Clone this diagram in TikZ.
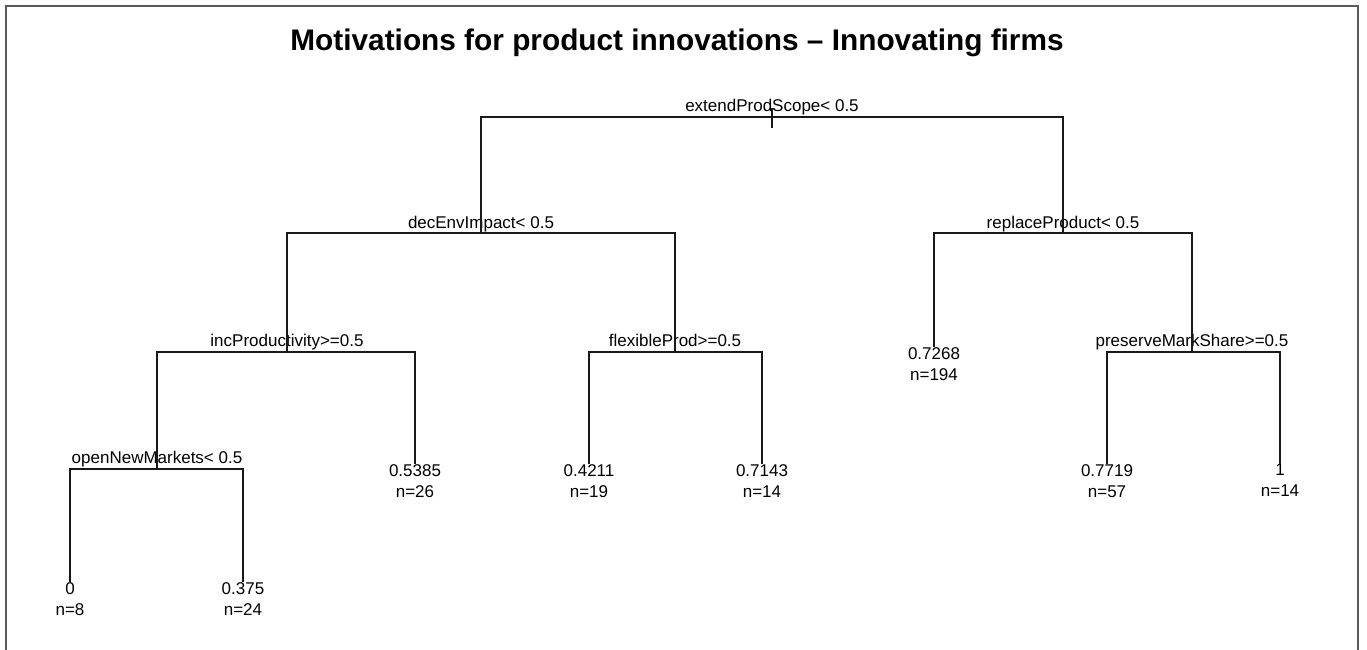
\documentclass[tikz,border=0pt]{standalone}
\usepackage{fontspec}
\setmainfont{Liberation Sans}
\usetikzlibrary{positioning}
\definecolor{framegray}{RGB}{90,90,90}
\definecolor{treeline}{RGB}{25,25,25}

\begin{document}
\begin{tikzpicture}[
    x=1pt, y=-1pt,
    every node/.style={align=center, inner sep=0pt},
    title/.style={anchor=base, font=\fontsize{29.8}{34}\selectfont\bfseries},
    splitlabel/.style={anchor=base, font=\fontsize{17}{21}\selectfont},
    leaf/.style={anchor=north, font=\fontsize{17}{21}\selectfont},
    branch/.style={draw=treeline, line width=1.6pt}
]

\useasboundingbox (0,0) rectangle (1367,649);
\clip (0,0) rectangle (1367,649);

% Plot frame
\draw[framegray, line width=1.8pt] (6,680) -- (6,6) -- (1358,6) -- (1358,680);

% Title
\node[title] (plottitle) at (677,50) {Motivations for product innovations \textendash\ Innovating firms};

% Split points
\coordinate (extend)    at (772,117);
\coordinate (decenv)    at (481,233);
\coordinate (replace)   at (1063,233);
\coordinate (incprod)   at (287,352);
\coordinate (flexible)  at (675,352);
\coordinate (preserve)  at (1192,352);
\coordinate (opennew)   at (157,469);
\coordinate (rootstub)  at (772,108);

% Split labels
\node[splitlabel] (extendlbl)   at (772,111)  {extendProdScope< 0.5};
\node[splitlabel] (decenvlbl)   at (481,228)  {decEnvImpact< 0.5};
\node[splitlabel] (replacelbl)  at (1063,228) {replaceProduct< 0.5};
\node[splitlabel] (incprodlbl)  at (287,346)  {incProductivity>=0.5};
\node[splitlabel] (flexiblelbl) at (675,346)  {flexibleProd>=0.5};
\node[splitlabel] (preservelbl) at (1192,346) {preserveMarkShare>=0.5};
\node[splitlabel] (opennewlbl)  at (157,463)  {openNewMarkets< 0.5};

% Leaves
\node[leaf] (leaf7268) at (934,347)  {0.7268\\n=194};
\node[leaf] (leaf5385) at (415,464)  {0.5385\\n=26};
\node[leaf] (leaf4211) at (589,464)  {0.4211\\n=19};
\node[leaf] (leaf7143) at (762,464)  {0.7143\\n=14};
\node[leaf] (leaf7719) at (1107,464) {0.7719\\n=57};
\node[leaf] (leafone)  at (1280,464) {1\\n=14};
\node[leaf] (leafzero) at (70,582)   {0\\n=8};
\node[leaf] (leaf375)  at (243,582)  {0.375\\n=24};

% Branches
\draw[branch] (rootstub) -- ++(0,20);
\draw[branch] (decenv) |- (extend) -| (replace);
\draw[branch] (incprod) |- (decenv) -| (flexible);
\draw[branch] (leaf7268.north) |- (replace) -| (preserve);
\draw[branch] (opennew) |- (incprod) -| (leaf5385.north);
\draw[branch] (leaf4211.north) |- (flexible) -| (leaf7143.north);
\draw[branch] (leaf7719.north) |- (preserve) -| (leafone.north);
\draw[branch] (leafzero.north) |- (opennew) -| (leaf375.north);

\end{tikzpicture}
\end{document}
